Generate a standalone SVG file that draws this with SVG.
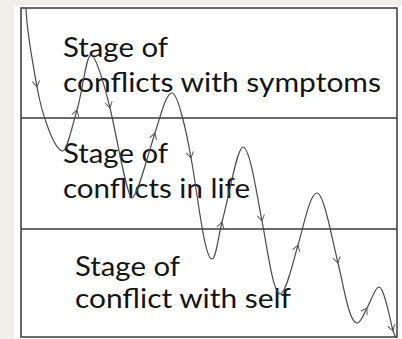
<svg xmlns="http://www.w3.org/2000/svg" width="402" height="339" viewBox="0 0 402 339">
<style>
.frame{fill:none;stroke:#3a3a3a;stroke-width:1.5}
.curve{fill:none;stroke:#4a4a4a;stroke-width:1.2}
.arr{fill:none;stroke:#5a5a5a;stroke-width:1}
.lbl{font-family:Lato,"Liberation Sans",sans-serif;font-size:27px;fill:#141414}
</style>
<defs>
<path id="chev" d="M-6,-3.6 L0,0 L-6,3.6"/>
</defs>
<rect x="0" y="0" width="402" height="339" fill="#f0eee9"/>
<rect x="14" y="5" width="388" height="334" fill="#ffffff"/>
<g id="frame">
<rect class="frame" x="21" y="8" width="376" height="329"/>
<line class="frame" x1="21" y1="118" x2="397" y2="118"/>
<line class="frame" x1="21" y1="229" x2="397" y2="229"/>
</g>
<g id="stage-symptoms">
<text class="lbl" x="63" y="57" textLength="105" lengthAdjust="spacingAndGlyphs">Stage of</text>
<text class="lbl" x="63" y="92" textLength="318" lengthAdjust="spacingAndGlyphs">conflicts with symptoms</text>
</g>
<g id="stage-life">
<text class="lbl" x="63" y="163" textLength="105" lengthAdjust="spacingAndGlyphs">Stage of</text>
<text class="lbl" x="63" y="198" textLength="187" lengthAdjust="spacingAndGlyphs">conflicts in life</text>
</g>
<g id="stage-self">
<text class="lbl" x="75" y="276" textLength="105" lengthAdjust="spacingAndGlyphs">Stage of</text>
<text class="lbl" x="75" y="308" textLength="216" lengthAdjust="spacingAndGlyphs">conflict with self</text>
</g>
<g id="connectors">
<path class="curve" d="M26,8 C27,35 32.6,61 37,87 C41.2,111.6 54,151 63,151 C67,151 72.6,124.4 77,110 C82.8,90.8 86,55 91,55 C96,55 105.8,90.5 110,108 C117,137.2 127,198 132,198 C137,198 148.1,153.9 155,133 C160.6,115.9 166,93 172,93 C178,93 186.8,133.4 191,158 C196.9,187.4 204,259 212,259 C216,259 218.8,233.6 222,222 C228.75,197.9 237,147 243,147 C250,147 257.1,196.5 262,221 C266.9,245.5 273,294 280,294 C286,294 293.7,259.4 298,245 C303.7,225.8 310,193 317,193 C324,193 331.9,238.75 338,263 C343.3,284.3 349,323 357,323 C361,323 363.9,313.2 367,308 C371.1,301.1 375,287 379,287 C384,287 389.7,317.6 393,331 L396,338"/>
<g class="arr">
<use href="#chev" transform="translate(37,87) rotate(80.4)"/>
<use href="#chev" transform="translate(77,110) rotate(-73.3)"/>
<use href="#chev" transform="translate(110,108) rotate(76.5)"/>
<use href="#chev" transform="translate(155,133) rotate(-71.7)"/>
<use href="#chev" transform="translate(191,158) rotate(78.9)"/>
<use href="#chev" transform="translate(222,222) rotate(-74.4)"/>
<use href="#chev" transform="translate(262,221) rotate(78.7)"/>
<use href="#chev" transform="translate(298,245) rotate(-73.3)"/>
<use href="#chev" transform="translate(338,263) rotate(76)"/>
<use href="#chev" transform="translate(367,308) rotate(-59)"/>
<use href="#chev" transform="translate(393,331) rotate(73.3)"/>
</g>
</g>
</svg>
